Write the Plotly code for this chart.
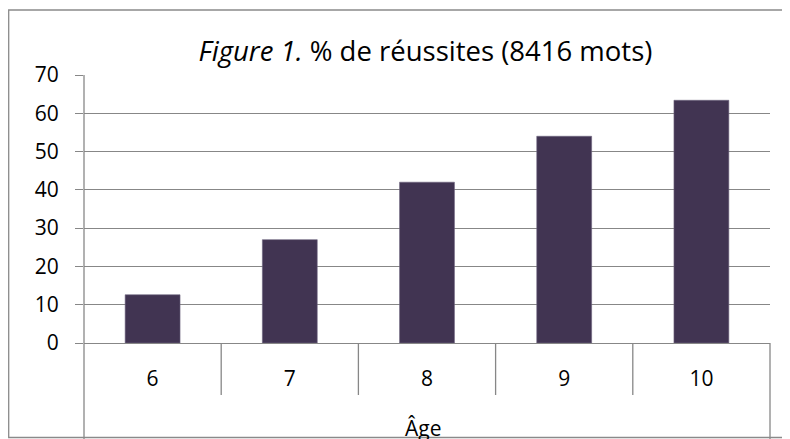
import plotly.graph_objects as go

ages = ["6", "7", "8", "9", "10"]
reussites = [12.6, 27, 42, 54, 63.4]
y_ticks = [0, 10, 20, 30, 40, 50, 60, 70]
title_text = "<i>Figure 1.</i> % de réussites (8416 mots)"
x_title = "Âge"

# the page body adds an 8px offset, so the figure is drawn 782x431
W, H = 782, 431
L, R, T, B = 76, 20, 67, 96
pw = W - L - R
ph = H - T - B

grid = "#878787"
bar_color = "#413452"
font_family = "'Open Sans', 'Noto Sans', sans-serif"
tick_size = 21

fig = go.Figure(go.Bar(
    x=ages, y=reussites, width=0.4,
    marker=dict(color=bar_color, line=dict(color="#6e6480", width=0.6)),
))

shapes = []
for k in range(1, len(ages)):
    shapes.append(dict(type="line", xref="x", yref="paper",
                       x0=k - 0.5, x1=k - 0.5, y0=0, y1=-52 / ph,
                       line=dict(color=grid, width=1.3)))
shapes.append(dict(type="line", xref="paper", yref="paper",
                   x0=0, x1=0, y0=1, y1=-(B + 2) / ph,
                   line=dict(color=grid, width=1.3)))
shapes.append(dict(type="line", xref="paper", yref="paper",
                   x0=1, x1=1, y0=0, y1=-(B + 2) / ph,
                   line=dict(color=grid, width=1.3)))
shapes.append(dict(type="rect", xref="paper", yref="paper",
                   x0=(0.7 - L) / pw, x1=(W + 10 - L) / pw,
                   y0=-(429.5 - (T + ph)) / ph,
                   y1=1 + (T - 2) / ph,
                   line=dict(color="#8a8a8a", width=1.3), fillcolor="rgba(0,0,0,0)"))

fig.update_layout(
    width=W, height=H,
    margin=dict(l=L, r=R, t=T, b=B, autoexpand=False),
    paper_bgcolor="white", plot_bgcolor="white",
    showlegend=False,
    font=dict(family=font_family, color="black", size=tick_size),
    title=dict(text=title_text, x=(417.5 - L) / pw, xref="paper", xanchor="center",
               y=1 - 43.5 / H, yref="container", yanchor="middle",
               font=dict(size=27.5, family=font_family, color="black")),
    shapes=shapes,
    bargap=0.6,
    annotations=[dict(text=x_title, xref="paper", yref="paper",
                      x=(415 - L) / pw, y=-(420 - (T + ph)) / ph,
                      xanchor="center", yanchor="middle", showarrow=False,
                      font=dict(size=tick_size, family=font_family, color="black"))],
)
fig.update_yaxes(
    range=[0, 70], tickvals=y_ticks, showgrid=True, gridcolor=grid, gridwidth=1.3,
    ticks="outside", ticklen=8, tickcolor=grid, tickwidth=1.3,
    ticklabelstandoff=12, zeroline=False, showline=False, automargin=False,
    tickfont=dict(size=tick_size),
)
fig.update_xaxes(
    showline=True, linecolor=grid, linewidth=1.3, ticks="", showgrid=False,
    ticklabelstandoff=17, automargin=False, tickfont=dict(size=tick_size),
)

fig.write_html("out.html")
